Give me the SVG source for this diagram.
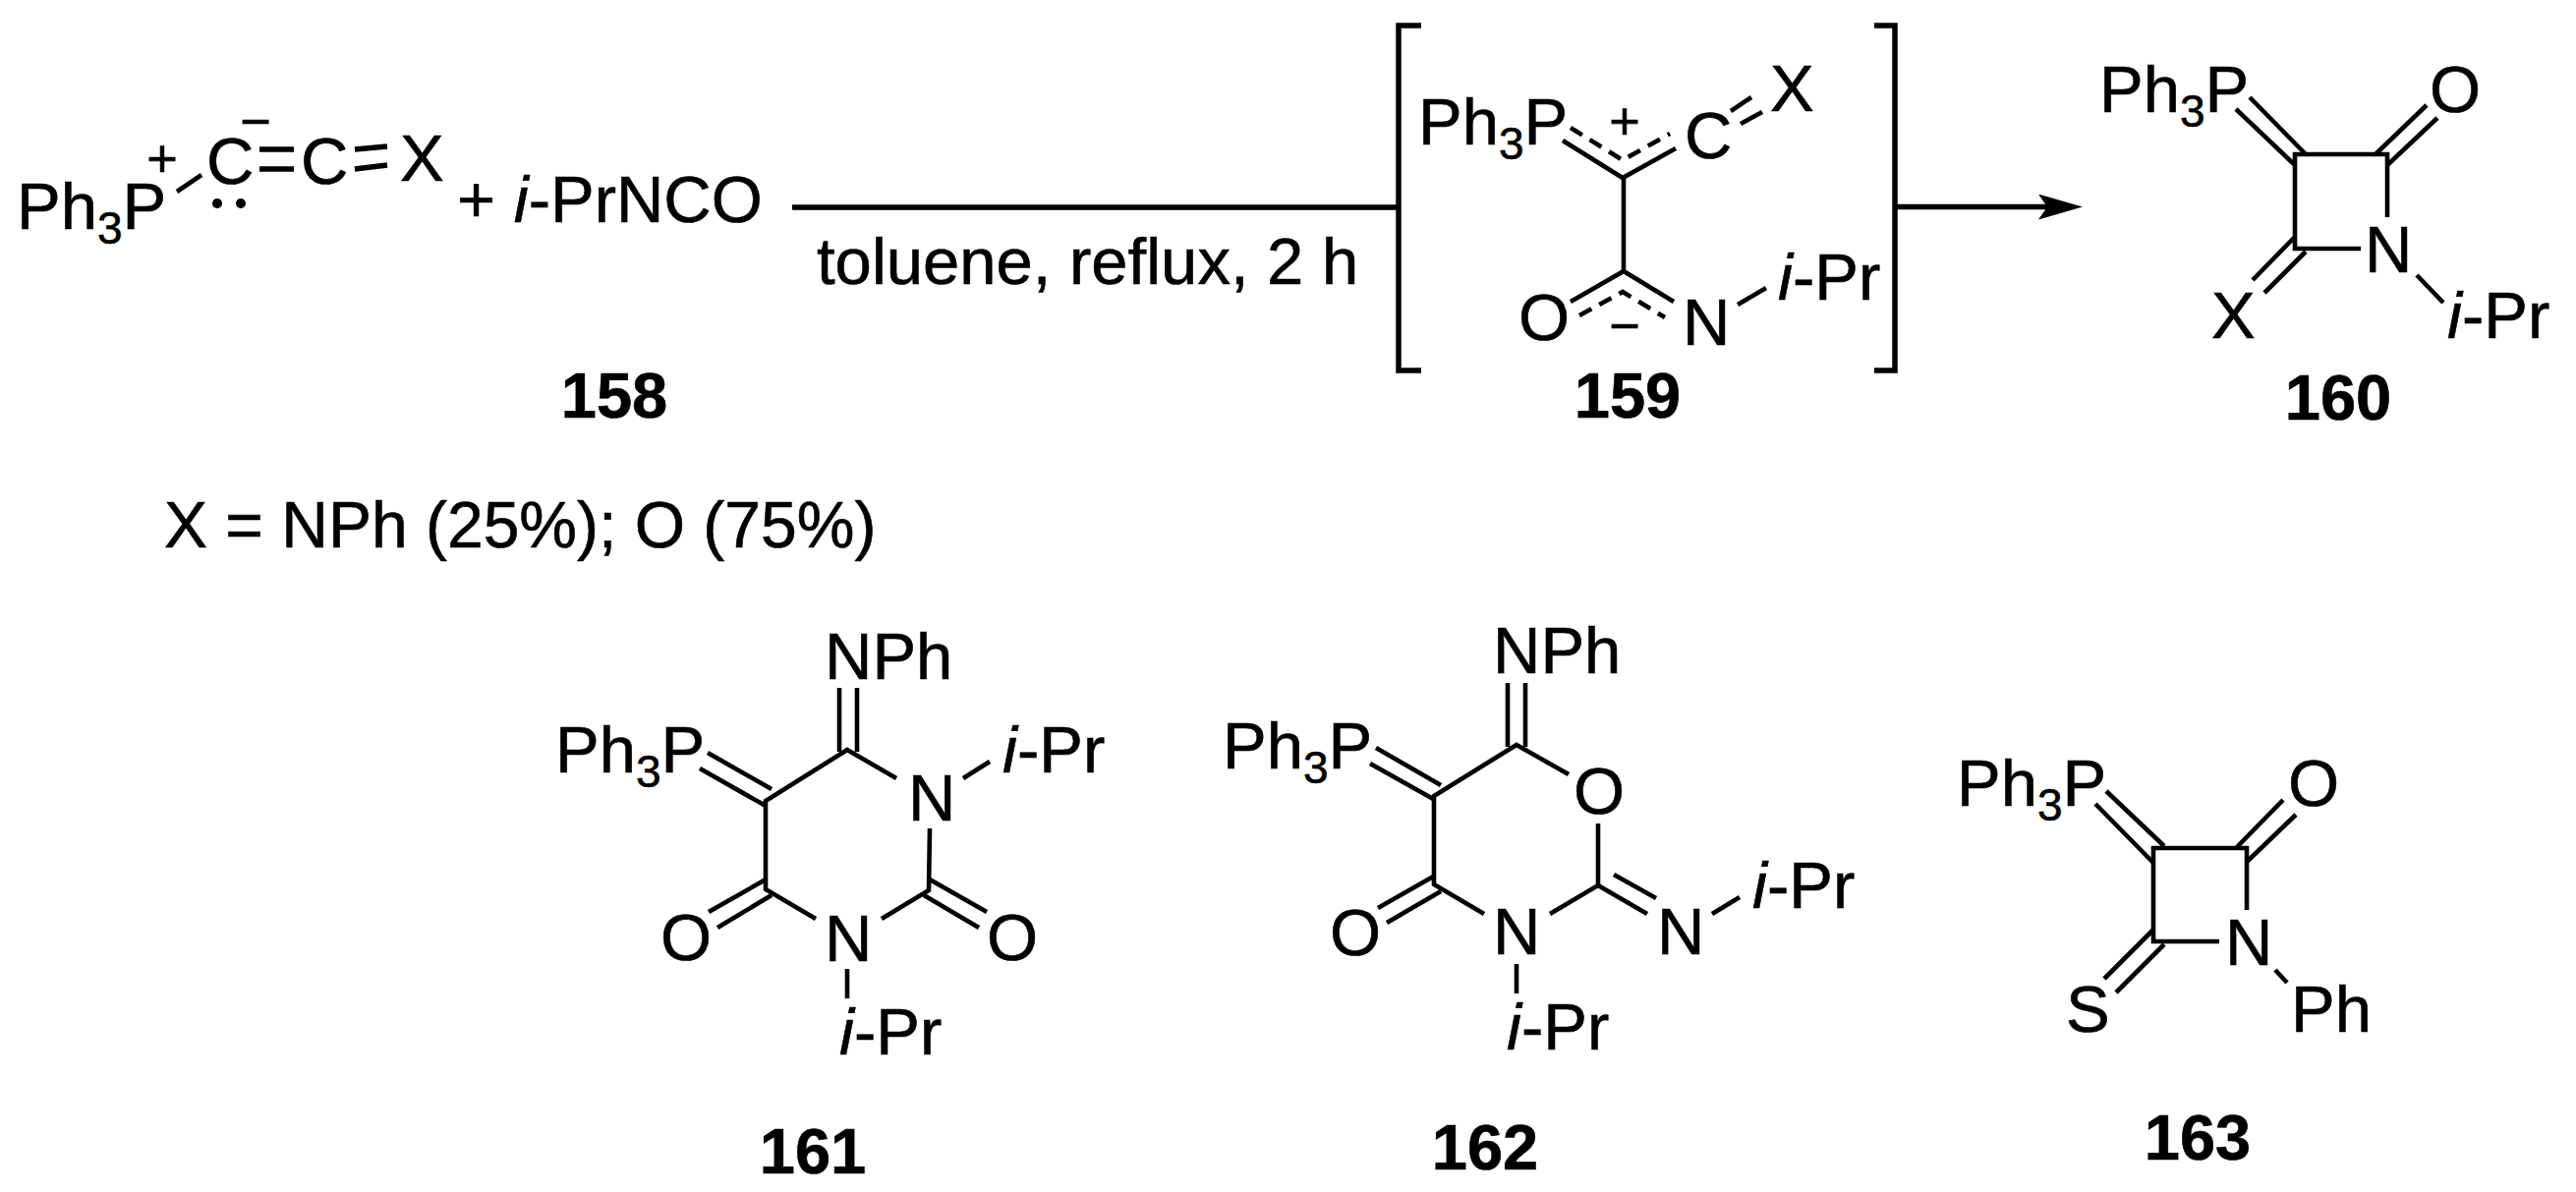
<svg xmlns="http://www.w3.org/2000/svg" width="2621" height="1213" viewBox="0 0 2621 1213">
<defs>
<style>
text{font-family:"Liberation Sans",Arial,sans-serif;font-size:67px;fill:#000;stroke:#000;stroke-width:.6}
.b{font-weight:bold;font-size:65px}
.i{font-style:italic}
.s{font-size:46px}
.c{font-size:54px;text-anchor:middle}
.m{text-anchor:middle}
.n{font-size:66px}
line,polyline{stroke:#000;stroke-width:4.6;fill:none}
.d{stroke-dasharray:14 9}
.w{stroke-width:5.5}
</style>
<marker id="ah" markerUnits="userSpaceOnUse" markerWidth="50" markerHeight="30" refX="11" refY="13" orient="auto"><path d="M0 0L45 13L0 26L9 13Z" fill="#000"/></marker>
</defs>
<rect width="2621" height="1213" fill="#fff"/>
<g id="connectors">
<line class="w" x1="806" y1="211" x2="1421" y2="211"/>
<line class="w" x1="1930" y1="210.5" x2="2085" y2="210.5" marker-end="url(#ah)"/>
</g>
<g id="condition"><text x="831" y="289">toluene, reflux, 2 h</text></g>
<g id="note"><text class="n" x="167" y="557">X = NPh (25%); O (75%)</text></g>
<g id="n158">
<text x="17" y="233">Ph<tspan class="s" dy="15">3</tspan><tspan dy="-15">P</tspan></text>
<text class="c" x="165" y="180">+</text>
<line x1="180" y1="195" x2="205" y2="178"/>
<text x="210" y="187">C</text>
<text class="c" x="260" y="142">−</text>
<line class="w" x1="264" y1="152" x2="299" y2="152"/><line class="w" x1="264" y1="172" x2="299" y2="172"/>
<text x="306" y="187">C</text>
<line class="w" x1="361" y1="152" x2="394" y2="149"/><line class="w" x1="361" y1="172" x2="394" y2="168"/>
<text x="407" y="184">X</text>
<circle cx="221" cy="207" r="5"/><circle cx="245" cy="207" r="5"/>
<text x="465" y="226">+ <tspan class="i">i</tspan>-PrNCO</text>
<text class="b m" x="625" y="425">158</text>
</g>
<g id="n159">
<polyline class="w" points="1446,26 1423,26 1423,377 1446,377"/>
<polyline class="w" points="1907,26 1928,26 1928,377 1907,377"/>
<text x="1443" y="147">Ph<tspan class="s" dy="15">3</tspan><tspan dy="-15">P</tspan></text>
<text class="c" x="1653" y="142">+</text>
<polyline points="1590,143 1651,181 1705,151"/>
<polyline class="d" points="1598,130 1651,163 1699,136"/>
<line x1="1652" y1="181" x2="1652" y2="276"/>
<text x="1714" y="161">C</text>
<line x1="1761" y1="113" x2="1782" y2="99"/><line x1="1771" y1="126" x2="1793" y2="114"/>
<text x="1801" y="113">X</text>
<polyline points="1598,307 1652,276 1703,307"/>
<polyline class="d" points="1607,321 1651,297 1694,323"/>
<text x="1545" y="346">O</text>
<text x="1712" y="351">N</text>
<text class="c" x="1653" y="350">−</text>
<line x1="1768" y1="310" x2="1797" y2="293"/>
<text x="1809" y="305"><tspan class="i">i</tspan>-Pr</text>
<text class="b m" x="1656" y="425">159</text>
</g>
<g id="n160">
<text x="2136" y="114">Ph<tspan class="s" dy="15">3</tspan><tspan dy="-15">P</tspan></text>
<text x="2472" y="114">O</text>
<polyline points="2402,253 2335,253 2335,157 2429,157 2429,221"/>
<line x1="2275" y1="111" x2="2335" y2="168"/><line x1="2289" y1="99" x2="2346" y2="157"/>
<line x1="2429" y1="168" x2="2480" y2="120"/><line x1="2417" y1="157" x2="2469" y2="107"/>
<line x1="2335" y1="241" x2="2292" y2="285"/><line x1="2346" y1="256" x2="2304" y2="298"/>
<text x="2250" y="344">X</text>
<text x="2406" y="277">N</text>
<line x1="2459" y1="280" x2="2486" y2="308"/>
<text x="2490" y="344"><tspan class="i">i</tspan>-Pr</text>
<text class="b m" x="2379" y="427">160</text>
</g>
<g id="n161">
<text x="565" y="786">Ph<tspan class="s" dy="15">3</tspan><tspan dy="-15">P</tspan></text>
<text x="839" y="691">NPh</text>
<line x1="854" y1="700" x2="854" y2="765"/><line x1="872" y1="700" x2="872" y2="765"/>
<polyline points="912,792 862,763 779,815 779,905 830,935"/>
<line x1="720" y1="766" x2="785" y2="803"/><line x1="712" y1="782" x2="779" y2="820"/>
<line x1="779" y1="895" x2="721" y2="928"/><line x1="785" y1="911" x2="730" y2="944"/>
<text x="672" y="977">O</text>
<text x="839" y="978">N</text>
<polyline points="946,843 945,906 897,935"/>
<line x1="946" y1="895" x2="1004" y2="928"/><line x1="940" y1="911" x2="996" y2="944"/>
<text x="1004" y="977">O</text>
<text x="924" y="835">N</text>
<line x1="980" y1="792" x2="1007" y2="775"/>
<text x="1020" y="786"><tspan class="i">i</tspan>-Pr</text>
<line x1="862" y1="986" x2="862" y2="1016"/>
<text x="854" y="1073"><tspan class="i">i</tspan>-Pr</text>
<text class="b m" x="827" y="1194">161</text>
</g>
<g id="n162">
<text x="1244" y="782">Ph<tspan class="s" dy="15">3</tspan><tspan dy="-15">P</tspan></text>
<text x="1519" y="685">NPh</text>
<line x1="1534" y1="695" x2="1534" y2="760"/><line x1="1552" y1="695" x2="1552" y2="760"/>
<polyline points="1596,788 1543,758 1459,810 1459,900 1510,930"/>
<line x1="1400" y1="761" x2="1466" y2="799"/><line x1="1394" y1="777" x2="1460" y2="814"/>
<line x1="1460" y1="891" x2="1402" y2="924"/><line x1="1466" y1="907" x2="1411" y2="939"/>
<text x="1353" y="972">O</text>
<text x="1519" y="971">N</text>
<text x="1601" y="828">O</text>
<polyline points="1626,838 1626,901 1577,930"/>
<line x1="1626" y1="901" x2="1676" y2="930"/><line x1="1642" y1="890" x2="1685" y2="914"/>
<text x="1686" y="971">N</text>
<line x1="1742" y1="930" x2="1770" y2="913"/>
<text x="1783" y="924"><tspan class="i">i</tspan>-Pr</text>
<line x1="1543" y1="981" x2="1543" y2="1011"/>
<text x="1533" y="1068"><tspan class="i">i</tspan>-Pr</text>
<text class="b m" x="1511" y="1190">162</text>
</g>
<g id="n163">
<text x="1991" y="820">Ph<tspan class="s" dy="15">3</tspan><tspan dy="-15">P</tspan></text>
<text x="2328" y="820">O</text>
<polyline points="2258,958 2191,958 2191,863 2286,863 2286,926"/>
<line x1="2132" y1="818" x2="2191" y2="878"/><line x1="2143" y1="805" x2="2202" y2="861"/>
<line x1="2286" y1="877" x2="2336" y2="829"/><line x1="2276" y1="862" x2="2323" y2="814"/>
<line x1="2191" y1="946" x2="2141" y2="996"/><line x1="2202" y1="961" x2="2153" y2="1010"/>
<text x="2102" y="1050">S</text>
<text x="2264" y="982">N</text>
<line x1="2315" y1="987" x2="2327" y2="1000"/>
<text x="2331" y="1050">Ph</text>
<text class="b m" x="2236" y="1180">163</text>
</g>
</svg>
